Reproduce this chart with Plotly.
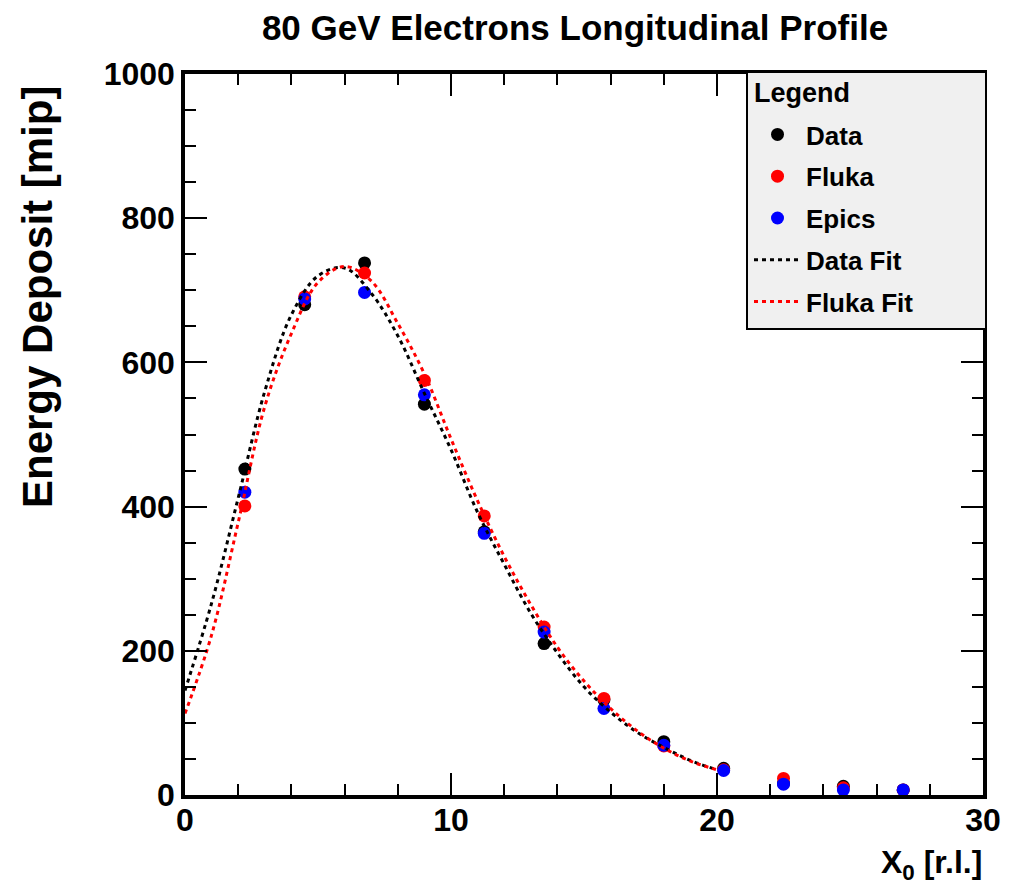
import plotly.graph_objects as go

# Depth positions of the measured layers [radiation lengths]
depth = [2.25, 4.5, 6.75, 9.0, 11.25, 13.5, 15.75, 18.0, 20.25, 22.5, 24.75, 27.0]

# Energy deposit [mip]
data_vals = [452, 680, 738, 542, 365, 210, 132, 74, 37, 16, 12, 7]
fluka_vals = [401, 691, 724, 575, 387, 233, 134, 68, 35, 23, 10, 7]
epics_vals = [420, 688, 697, 555, 363, 226, 120, 69, 34, 15, 7, 7]

# Fit curves
fit_x = [0, 1, 2, 3, 4, 5, 6, 7, 8, 9, 10, 11, 12, 13, 14, 15, 16, 17, 18, 19, 20]
data_fit = [145, 266, 412, 560, 666, 720, 731, 696, 637, 557, 479, 392, 320, 252, 197, 150, 115, 87, 66, 48, 35]
fluka_fit = [113, 222, 378, 539, 640, 711, 733, 713, 654, 584, 494, 408, 331, 264, 205, 158, 120, 89, 65, 47, 35]

x_ticks = [0, 10, 20, 30]
y_ticks = [0, 200, 400, 600, 800, 1000]

SANS = "Liberation Sans, Arial, Helvetica, sans-serif"

# plot area in pixels: x 185..983, y 74..795
PL, PR, PT, PB = 185, 983, 74, 795
PW, PH = PR - PL, PB - PT


def px_x(p):
    return (p - PL) / PW


def px_y(p):
    return (PB - p) / PH


fig = go.Figure()
fig.add_trace(go.Scatter(x=depth, y=data_vals, mode="markers", name="Data",
                         marker=dict(color="#000000", size=13), legendgroup="a"))
fig.add_trace(go.Scatter(x=depth, y=fluka_vals, mode="markers", name="Fluka",
                         marker=dict(color="#ff0000", size=13), legendgroup="b"))
fig.add_trace(go.Scatter(x=depth, y=epics_vals, mode="markers", name="Epics",
                         marker=dict(color="#0000ff", size=13), legendgroup="c"))
fig.add_trace(go.Scatter(x=fit_x, y=data_fit, mode="lines", name="Data Fit",
                         line=dict(color="#000000", width=3, dash="4px,4px", shape="spline"),
                         legendgroup="d"))
fig.add_trace(go.Scatter(x=fit_x, y=fluka_fit, mode="lines", name="Fluka Fit",
                         line=dict(color="#ff0000", width=3, dash="4px,4px", shape="spline"),
                         legendgroup="e"))

axis_common = dict(
    showgrid=False, zeroline=False, showline=True, linewidth=3.5, linecolor="black",
    mirror="allticks", ticks="inside", tickwidth=2, tickcolor="black",
    tickfont=dict(family=SANS, size=32, color="black", weight="bold"),
)

fig.update_xaxes(range=[0, 30], tickvals=x_ticks, ticklen=22, ticklabelstandoff=-6,
                 minor=dict(dtick=2, tick0=0, ticklen=11, tickwidth=2, ticks="inside", tickcolor="black"),
                 **axis_common)
fig.update_yaxes(range=[0, 1000], tickvals=y_ticks, ticklen=22,
                 minor=dict(dtick=50, tick0=0, ticklen=11, tickwidth=2, ticks="inside", tickcolor="black"),
                 **axis_common)

fig.update_layout(
    width=1022, height=892,
    margin=dict(l=PL, r=1022 - PR, t=PT, b=892 - PB),
    paper_bgcolor="white", plot_bgcolor="white",
    title=dict(text="80 GeV Electrons Longitudinal Profile",
               font=dict(family=SANS, size=35, color="black", weight="bold"),
               x=575 / 1022, xanchor="center", xref="container",
               y=1 - 28 / 892, yanchor="middle", yref="container"),
    legend=dict(
        x=px_x(749), y=px_y(111), xanchor="left", yanchor="top",
        bgcolor="rgba(0,0,0,0)", borderwidth=0,
        font=dict(family=SANS, size=26, color="black", weight="bold"),
        traceorder="grouped", tracegroupgap=5,
        itemwidth=47,
    ),
    shapes=[
        dict(type="rect", xref="paper", yref="paper", layer="above",
             x0=px_x(747), x1=px_x(986), y0=px_y(329), y1=px_y(72),
             fillcolor="#f0f0f0", line=dict(color="black", width=2)),
    ],
    annotations=[
        dict(text="Legend", showarrow=False, xref="paper", yref="paper",
             x=px_x(752), xanchor="left", y=px_y(93), yanchor="middle",
             font=dict(family=SANS, size=27, color="black", weight="bold")),
        dict(text="Energy Deposit [mip]", textangle=-90, showarrow=False,
             xref="paper", yref="paper", x=px_x(37), xanchor="center",
             y=px_y(84), yanchor="top",
             font=dict(family=SANS, size=42, color="black", weight="bold")),
        dict(text="X<sub>0</sub> [r.l.]", showarrow=False,
             xref="paper", yref="paper", x=px_x(984), xanchor="right",
             y=px_y(842), yanchor="top",
             font=dict(family=SANS, size=32, color="black", weight="bold")),
    ],
)

fig.write_html("out.html")
